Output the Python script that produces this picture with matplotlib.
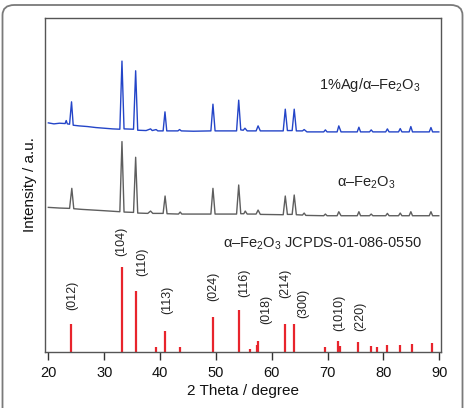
import matplotlib
matplotlib.use("Agg")
import matplotlib.pyplot as plt
from matplotlib.patches import FancyBboxPatch

plt.rcParams['font.family'] = ['Liberation Sans', 'DejaVu Sans']
plt.rcParams['mathtext.fontset'] = 'custom'
plt.rcParams['mathtext.rm'] = 'Liberation Sans'
plt.rcParams['mathtext.it'] = 'Liberation Sans:italic'
plt.rcParams['mathtext.bf'] = 'Liberation Sans:bold'

# ---- data (2theta in degree, intensity in a.u. incl. vertical offset) ----
ag_2theta = [20.0, 21.0, 22.0, 23.0, 23.2, 23.4, 23.8, 24.15, 24.45, 25.5, 27.0, 28.5, 30.0, 31.5, 32.8,
             33.18, 33.55, 35.25, 35.63, 36.0, 37.5, 38.3, 38.6, 39.3, 39.6, 40.55, 40.88, 41.2,
             43.2, 43.5, 43.8, 46.0, 49.1, 49.47, 49.85, 53.7, 54.08, 54.45, 54.9, 55.2, 55.6,
             57.2, 57.55, 57.95, 62.05, 62.42, 62.8, 63.65, 64.02, 64.4, 65.5, 65.8, 66.3,
             69.3, 69.6, 69.9, 71.7, 72.0, 72.4, 75.3, 75.6, 75.9, 77.5, 77.8, 78.1, 80.4, 80.7, 81.0,
             82.7, 83.0, 83.3, 84.6, 84.9, 85.2, 88.2, 88.5, 88.8, 89.9]
ag_int = [68.6, 68.3, 68.5, 68.4, 69.3, 68.3, 68.2, 74.9, 67.9, 67.7, 67.5, 67.2, 67.0, 66.8, 66.7,
          87.1, 66.8, 66.7, 84.2, 66.4, 66.3, 66.8, 66.3, 66.6, 66.2, 66.2, 71.9, 66.2,
          66.2, 66.6, 66.2, 66.1, 66.2, 74.2, 66.2, 66.2, 75.4, 66.5, 66.4, 67.0, 66.2,
          66.2, 67.7, 66.2, 66.2, 72.7, 66.3, 66.3, 72.7, 66.2, 66.2, 66.6, 65.9,
          65.9, 66.5, 65.9, 65.9, 67.7, 65.9, 65.9, 67.3, 65.9, 65.9, 66.5, 65.9, 65.9, 66.8, 65.9,
          65.9, 66.9, 65.9, 65.9, 67.5, 65.9, 65.9, 67.2, 65.9, 65.9]

fe_2theta = [20.0, 21.0, 22.0, 23.8, 24.2, 24.55, 26.0, 28.0, 30.0, 32.8, 33.18, 33.55, 35.25, 35.63,
             36.0, 37.8, 38.3, 38.7, 40.55, 40.9, 41.25, 43.3, 43.6, 43.9, 49.1, 49.47, 49.85,
             53.7, 54.08, 54.45, 55.0, 55.25, 55.6, 57.2, 57.55, 57.95, 62.05, 62.42, 62.8,
             63.65, 64.02, 64.4, 65.5, 65.8, 66.1, 69.3, 69.6, 69.9, 71.7, 72.0, 72.4,
             75.3, 75.6, 75.9, 77.5, 77.8, 78.1, 80.4, 80.7, 81.0, 82.7, 83.0, 83.3,
             84.6, 84.9, 85.2, 88.2, 88.5, 88.8, 89.9]
fe_int = [43.3, 43.2, 43.1, 43.0, 49.0, 42.9, 42.7, 42.5, 42.3, 42.0, 63.0, 41.9, 41.8, 58.3,
          41.6, 41.5, 42.2, 41.5, 41.5, 46.7, 41.4, 41.3, 41.9, 41.3, 41.3, 49.0, 41.3,
          41.3, 50.0, 41.4, 41.4, 42.2, 41.3, 41.3, 42.5, 41.2, 41.1, 46.7, 41.2,
          41.2, 47.0, 41.1, 41.0, 41.6, 40.9, 40.8, 41.3, 40.8, 40.8, 42.0, 40.8,
          40.8, 42.0, 40.8, 40.8, 41.3, 40.8, 40.8, 41.5, 40.8, 40.8, 41.6, 40.8,
          40.8, 42.0, 40.8, 40.8, 42.0, 40.8, 40.8]

ref_2theta = [24.14, 33.15, 35.61, 39.28, 40.86, 43.52, 49.48, 54.09, 56.15, 57.43, 57.59,
              62.45, 64.0, 69.6, 71.9, 72.26, 75.43, 77.7, 78.8, 80.7, 83.0, 85.1, 88.6]
ref_int = [8.4, 25.4, 18.3, 1.5, 6.3, 1.5, 10.5, 12.6, 0.9, 2.1, 3.3,
           8.4, 8.4, 1.5, 3.3, 1.8, 3.0, 1.8, 1.5, 2.1, 2.1, 2.4, 2.7]

hkl_labels = ['(012)', '(104)', '(110)', '(113)', '(024)', '(116)', '(018)', '(214)', '(300)', '(1010)', '(220)']
hkl_x = [24.3, 33.0, 36.8, 41.3, 49.45, 55.1, 59.0, 62.4, 65.55, 72.0, 75.8]
hkl_y = [12.6, 28.7, 22.8, 11.4, 15.3, 16.5, 8.4, 16.2, 10.2, 6.3, 6.3]

xticks = [20, 30, 40, 50, 60, 70, 80, 90]

# ---- figure ----
fig = plt.figure(figsize=(4.73, 4.08), dpi=100)
frame = FancyBboxPatch((2.5 / 473, -0.2), (462.5 - 2.5) / 473, (403 / 408) + 0.2,
                       boxstyle="round,pad=0,rounding_size=0.025",
                       transform=fig.transFigure, fill=False, edgecolor='#7a7a7a',
                       linewidth=1.3, zorder=0)
fig.patches.append(frame)

ax = fig.add_axes([45 / 473, 1 - 352 / 408, (441 - 45) / 473, (352 - 18) / 408])

ax.plot(ag_2theta, ag_int, color='#2445c8', lw=1.0)
ax.plot(fe_2theta, fe_int, color='#5e5e5e', lw=1.0)
ax.vlines(ref_2theta, 0, ref_int, colors='#e8242c', lw=1.6)

for lab, x, y in zip(hkl_labels, hkl_x, hkl_y):
    ax.text(x, y, lab, rotation=90, ha='center', va='bottom', fontsize=9, color='#222222')

ax.text(86.7, 79.8, r'1%Ag/α–Fe$_2$O$_3$', ha='right', va='center', fontsize=10.5, color='#222222')
ax.text(82.1, 50.6, r'α–Fe$_2$O$_3$', ha='right', va='center', fontsize=10.5, color='#222222')
ax.text(86.85, 32.5, r'α–Fe$_2$O$_3$ JCPDS-01-086-0550', ha='right', va='center', fontsize=10.5,
        color='#222222')

ax.set_xlim(19.4, 90.3)
ax.set_ylim(0, 100)
ax.set_xticks(xticks)
ax.set_yticks([])
ax.tick_params(axis='x', direction='out', length=6, width=1.0, pad=4, labelsize=10.5,
               colors='#333333', labelcolor='#111111')
for s in ax.spines.values():
    s.set_color('#555555')
    s.set_linewidth(1.0)

ax.set_xlabel('2 Theta / degree', fontsize=11, color='#111111', labelpad=3)
ax.set_ylabel('Intensity / a.u.', fontsize=11, color='#111111', labelpad=6)

fig.savefig('out.png', dpi=100)
